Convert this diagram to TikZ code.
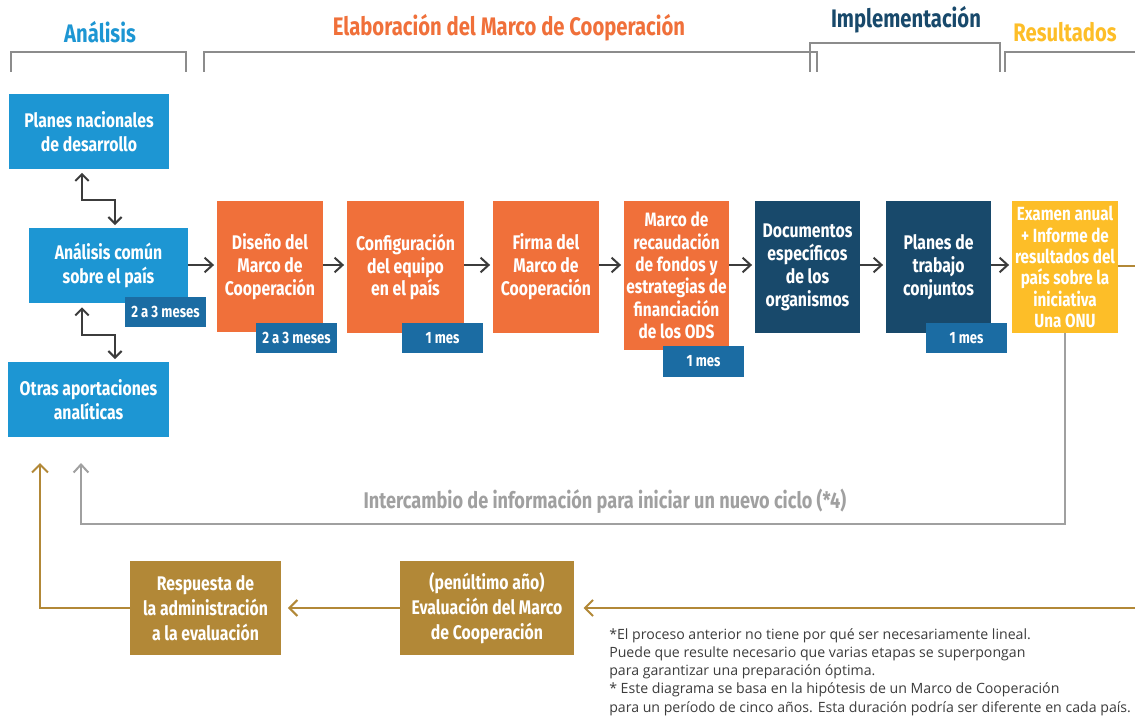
\documentclass[tikz,border=0pt]{standalone}
\usepackage{fontspec}
\setmainfont{Fira Sans}
\newfontfamily\condf[FakeStretch=0.8]{Fira Sans}
\newfontfamily\notef{Open Sans}
\usetikzlibrary{arrows.meta,calc}
\definecolor{cblue}{RGB}{29,150,211}
\definecolor{clab}{RGB}{27,108,163}
\definecolor{corange}{RGB}{240,112,58}
\definecolor{cnavy}{RGB}{24,73,107}
\definecolor{cyellow}{RGB}{253,190,40}
\definecolor{cbrown}{RGB}{178,136,55}
\definecolor{cgrayline}{RGB}{160,160,160}
\definecolor{cbracket}{RGB}{140,140,140}
\definecolor{carrow}{RGB}{60,60,60}
\definecolor{cnote}{RGB}{60,60,60}
\newdimen\pxu \pxu=0.75pt
\tikzset{
  box/.style={rectangle, inner sep=0pt, text=white, align=center,
    font=\condf\bfseries\fontsize{14.8}{17.2}\selectfont},
  bluebox/.style={box, fill=cblue},
  orangebox/.style={box, fill=corange},
  navybox/.style={box, fill=cnavy},
  yellowbox/.style={box, fill=cyellow},
  brownbox/.style={box, fill=cbrown, font=\condf\bfseries\fontsize{14.8}{18.7}\selectfont},
  labbox/.style={rectangle, inner sep=0pt, fill=clab, text=white,
    minimum width=81\pxu, minimum height=30\pxu,
    font=\condf\bfseries\fontsize{12.3}{14}\selectfont},
  flow/.style={draw=carrow, line width=1.5pt,
    -{Straight Barb[length=6pt,width=11pt,line width=1.5pt]}, shorten >=2pt},
  dbl/.style={draw=carrow, line width=1.5pt,
    {Straight Barb[length=5pt,width=10pt,line width=1.5pt]}-{Straight Barb[length=5pt,width=10pt,line width=1.5pt]},
    shorten >=2pt, shorten <=3pt},
  bracket/.style={draw=cbracket, line width=1.5pt},
  ret/.style={draw=cgrayline, line width=2pt},
  brn/.style={draw=cbrown, line width=2pt},
  head/.style={font=\condf\bfseries\fontsize{19}{22}\selectfont, inner sep=0pt},
}
\begin{document}
\begin{tikzpicture}[x=0.75pt,y=-0.75pt]
\useasboundingbox (0,0) rectangle (1135,717);
\fill[white] (0,0) rectangle (1135,717);

% headers
\node[head, text=cblue] (hA) at (100,32) {Análisis};
\node[head, text=corange] (hE) at (509,28) {Elaboración del Marco de Cooperación};
\node[head, text=cnavy] (hI) at (906,20) {Implementación};
\node[head, text=cyellow] (hR) at (1065,32) {Resultados};

% brackets
\draw[bracket] (11,72) -- (11,52) -- (186,52) -- (186,72);
\draw[bracket] (204,72) -- (204,52) -- (817,52) -- (817,72);
\draw[bracket] (810,72) -- (810,43) -- (1000,43) -- (1000,72);
\draw[bracket] (1005,72) -- (1005,52) -- (1140,52);

% analysis column
\node[bluebox, minimum width=160\pxu, minimum height=74\pxu, font=\condf\bfseries\fontsize{14.8}{18.5}\selectfont] (plan) at (89,131.5) {Planes nacionales\\de desarrollo};
\node[bluebox, minimum width=159\pxu, minimum height=75\pxu, font=\condf\bfseries\fontsize{14.8}{18.5}\selectfont] (acp) at (108.5,265.5) {Análisis común\\sobre el país};
\node[bluebox, minimum width=161\pxu, minimum height=75\pxu, font=\condf\bfseries\fontsize{14.8}{18.5}\selectfont] (otras) at (88.5,399.5) {Otras aportaciones\\analíticas};
\node[labbox] (acpL) at (165.5,312) {2 a 3 meses};

% elaboration
\node[orangebox, minimum width=106\pxu, minimum height=131\pxu] (dis) at (270,266.5) {Diseño del\\Marco de\\Cooperación};
\node[orangebox, minimum width=117\pxu, minimum height=132\pxu] (conf) at (405.5,267) {Configuración\\del equipo\\en el país};
\node[orangebox, minimum width=106\pxu, minimum height=132\pxu] (firma) at (546,267) {Firma del\\Marco de\\Cooperación};
\node[orangebox, minimum width=105\pxu, minimum height=149\pxu, font=\condf\bfseries\fontsize{14.5}{16.8}\selectfont] (marco) at (676.5,275.5) {Marco de\\recaudación\\de fondos y\\estrategias de\\financiación\\de los ODS};
\node[labbox] (disL) at (296.5,338) {2 a 3 meses};
\node[labbox] (confL) at (442.5,338) {1 mes};
\node[labbox, minimum height=31\pxu] (marcoL) at (703.5,361.5) {1 mes};

% implementation
\node[navybox, minimum width=105\pxu, minimum height=132\pxu] (doc) at (807.5,267) {Documentos\\específicos\\de los\\organismos};
\node[navybox, minimum width=105\pxu, minimum height=132\pxu] (plt) at (938.5,267) {Planes de\\trabajo\\conjuntos};
\node[labbox] (pltL) at (966.5,338) {1 mes};

% results
\node[yellowbox, minimum width=106\pxu, minimum height=132\pxu, font=\condf\bfseries\fontsize{14.3}{16}\selectfont] (exa) at (1065,267) {Examen anual\\+ Informe de\\resultados del\\país sobre la\\iniciativa\\Una ONU};

% bottom
\node[brownbox, minimum width=151\pxu, minimum height=94\pxu] (resp) at (205.5,608) {Respuesta de\\la administración\\a la evaluación};
\node[brownbox, minimum width=174\pxu, minimum height=94\pxu] (eval) at (487,608) {(penúltimo año)\\Evaluación del Marco\\de Cooperación};

% flow arrows
\draw[flow] (acp.east |- 0,265) -- (dis.west |- 0,265);
\draw[flow] (dis.east |- 0,265) -- (conf.west |- 0,265);
\draw[flow] (conf.east |- 0,265) -- (firma.west |- 0,265);
\draw[flow] (firma.east |- 0,265) -- (marco.west |- 0,265);
\draw[flow] (marco.east |- 0,265) -- (doc.west |- 0,265);
\draw[flow] (doc.east |- 0,265) -- (plt.west |- 0,265);
\draw[flow] (plt.east |- 0,265) -- (exa.west |- 0,265);

% double arrows
\draw[dbl] ($(plan.south)+(-7,0)$) -- ++(0,31) -| ($(acp.north)+(6.5,0)$);
\draw[dbl] ($(acp.south)+(-26.5,0)$) -- ++(0,32) -| ($(otras.north)+(26.5,0)$);

% gray return
\draw[ret, -{Straight Barb[length=6pt,width=11pt,line width=1.5pt]}] (exa.south) -- (exa.south |- 0,524) -- (81,524) -- (81,463);
\node[font=\condf\bfseries\fontsize{17}{20}\selectfont, text=cgrayline] (inter) at (605,501) {Intercambio de información para iniciar un nuevo ciclo (*4)};

% brown loop
\coordinate (rout) at (1148,266);
\draw[brn] (exa.east |- 0,266) -- (rout) -- (rout |- 0,608);
\draw[brn, -{Straight Barb[length=6pt,width=12pt,line width=1.5pt]}, shorten >=7pt] (rout |- 0,608) -- (eval.east);
\draw[brn, -{Straight Barb[length=6pt,width=12pt,line width=1.5pt]}, shorten >=5pt] (eval.west) -- (resp.east);
\draw[brn, -{Straight Barb[length=6pt,width=12pt,line width=1.5pt]}] (resp.west) -- (40,608) -- (40,463);

% footnote
\node[anchor=north west, align=left, inner sep=0pt, text=cnote,
  font=\notef\fontsize{10.6}{13.7}\selectfont] (note) at (609,628)
{*El proceso anterior no tiene por qué ser necesariamente lineal.\\
Puede que resulte necesario que varias etapas se superpongan\\
para garantizar una preparación óptima.\\
* Este diagrama se basa en la hipótesis de un Marco de Cooperación\\
para un período de cinco años. Esta duración podría ser diferente en cada país.};
\end{tikzpicture}
\end{document}
